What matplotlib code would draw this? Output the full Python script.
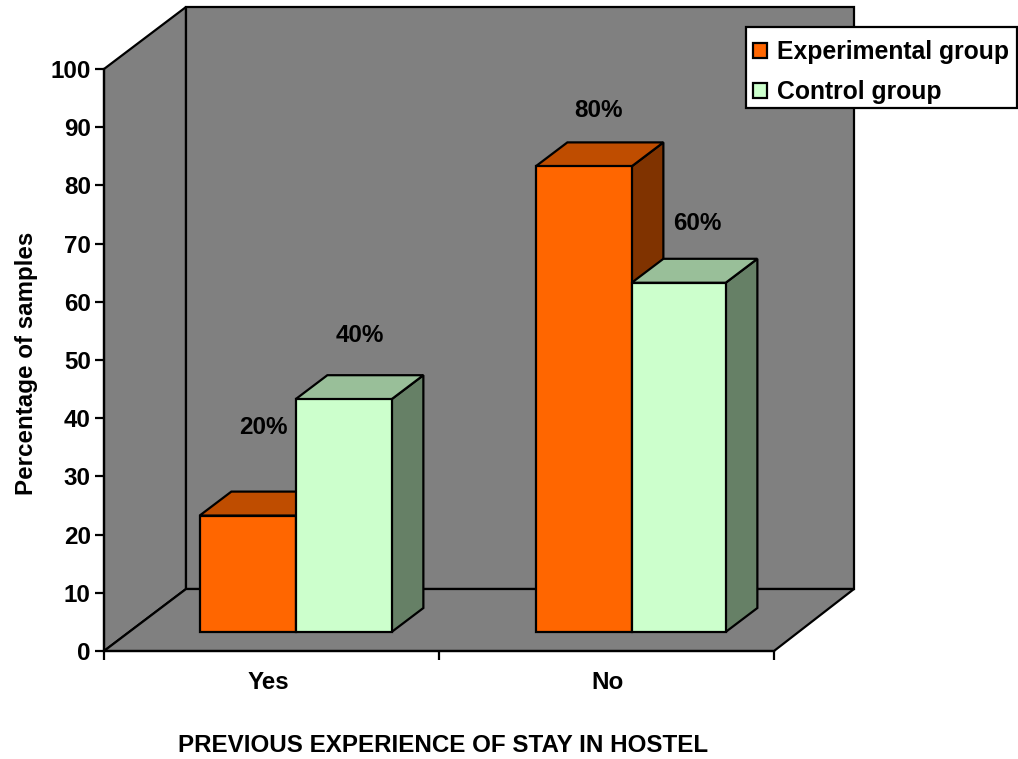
import matplotlib
matplotlib.use("Agg")
import matplotlib.pyplot as plt
from matplotlib.patches import Polygon, Patch, Rectangle

plt.rcParams['font.family'] = ['Liberation Sans', 'DejaVu Sans']
plt.rcParams['font.weight'] = 'bold'

categories = ["Yes", "No"]
series_names = ["Experimental group", "Control group"]
experimental = [20, 80]
control = [40, 60]
y_ticks = list(range(0, 101, 10))

# face colours: front, top, side
ORANGE = ("#FF6600", "#BF4D00", "#803300")
GREEN = ("#CCFFCC", "#99BF99", "#668066")
WALL = "#808080"
LW = 1.6
FS = 17.4

W, H = 1018, 759
L, R, T, B = 104, 774, 69, 651

fig = plt.figure(figsize=(W / 100, H / 100), dpi=100)
ax = fig.add_axes([L / W, 1 - B / H, (R - L) / W, (B - T) / H])
ax.set_xlim(0, 2)
ax.set_ylim(0, 100)
ax.patch.set_visible(False)

# fake depth, in data units of the axes
DX = 82 / 335
DY = 62 / 5.82
BAR_W = 96 / 335
D0, D1 = 19 / 62, 43 / 62
BACK_R = 1.994  # back wall ends a touch short of the front edge
group_x = [0.497, 1.5]
green_w = [BAR_W, 94 / 335]


def skew(x, y, d):
    return (x + d * DX, y + d * DY)


def face(pts, color, z):
    ax.add_patch(Polygon(pts, closed=True, fc=color, ec="k", lw=LW, zorder=z,
                         clip_on=False, joinstyle="miter"))


# walls and floor
face([skew(0, 0, 0), skew(0, 100, 0), skew(0, 100, 1), skew(0, 0, 1)], WALL, 1)
face([skew(0, 0, 1), skew(0, 100, 1), skew(BACK_R, 100, 1), skew(BACK_R, 0, 1)], WALL, 1)
face([skew(0, 0, 0), skew(0, 0, 1), skew(BACK_R, 0, 1), skew(2, 0, 0)], WALL, 1)


def bar(x0, val, width, cols, z):
    x1 = x0 + width
    side = [skew(x1, 0, D0), skew(x1, val, D0), skew(x1, val, D1), skew(x1, 0, D1)]
    top = [skew(x0, val, D0), skew(x0, val, D1), skew(x1, val, D1), skew(x1, val, D0)]
    front = [skew(x0, 0, D0), skew(x0, val, D0), skew(x1, val, D0), skew(x1, 0, D0)]
    face(side, cols[2], z)
    face(top, cols[1], z)
    face(front, cols[0], z)


# label offsets from the middle of the bar's front top edge, in pixels
exp_offsets = [(16, 88), (15, 56)]
ctl_offsets = [(16, 64), (18, 59)]

for i, name in enumerate(categories):
    xc = group_x[i]
    bar(xc - BAR_W, experimental[i], BAR_W, ORANGE, 3)
    bar(xc, control[i], green_w[i], GREEN, 4)
    for x0, val, off in [(xc - BAR_W, experimental[i], exp_offsets[i]),
                         (xc, control[i], ctl_offsets[i])]:
        ax.annotate("%d%%" % val, xy=skew(x0 + BAR_W / 2, val, D0),
                    xytext=(off[0] * 0.72, off[1] * 0.72), textcoords="offset points",
                    ha="center", va="center", fontsize=FS, zorder=6)

ax.spines[['top', 'right']].set_visible(False)
for s in ['left', 'bottom']:
    ax.spines[s].set_linewidth(LW)
    ax.spines[s].set_zorder(2)

ax.set_yticks(y_ticks)
ax.set_xticks([0, 1, 2])
ax.set_xticklabels([])
ax.set_xticks([0.492, 1.503], minor=True)
ax.set_xticklabels(categories, minor=True)
ax.tick_params(axis='both', which='major', length=6.5, width=LW, labelsize=FS, pad=3)
ax.tick_params(axis='x', which='minor', length=0, labelsize=FS, pad=14.5)

ax.set_xlabel("PREVIOUS EXPERIENCE OF STAY IN HOSTEL", fontsize=FS, fontweight='bold')
ax.xaxis.set_label_coords(0.506, -0.1425)
ax.set_ylabel("Percentage of samples", fontsize=FS, fontweight='bold')
ax.yaxis.set_label_coords(-0.099, 0.495)

# legend box drawn apart so the rows can sit low in it like the original
ax.add_patch(Rectangle((746 / W, 1 - 108 / H), 271 / W, 81 / H, transform=fig.transFigure,
                       fc="white", ec="k", lw=LW, zorder=7, clip_on=False))
handles = [Patch(fc=ORANGE[0], ec="k", lw=LW), Patch(fc=GREEN[0], ec="k", lw=LW)]
leg = ax.legend(handles, series_names, loc="upper left",
                bbox_to_anchor=(745 / W, 1 - 32 / H), bbox_transform=fig.transFigure,
                frameon=False, fontsize=17.8,
                handlelength=0.55, handleheight=0.55, handletextpad=0.4,
                borderaxespad=0, borderpad=0.33, labelspacing=0.66)
leg.set_zorder(8)

fig.savefig("out.png", dpi=100)
